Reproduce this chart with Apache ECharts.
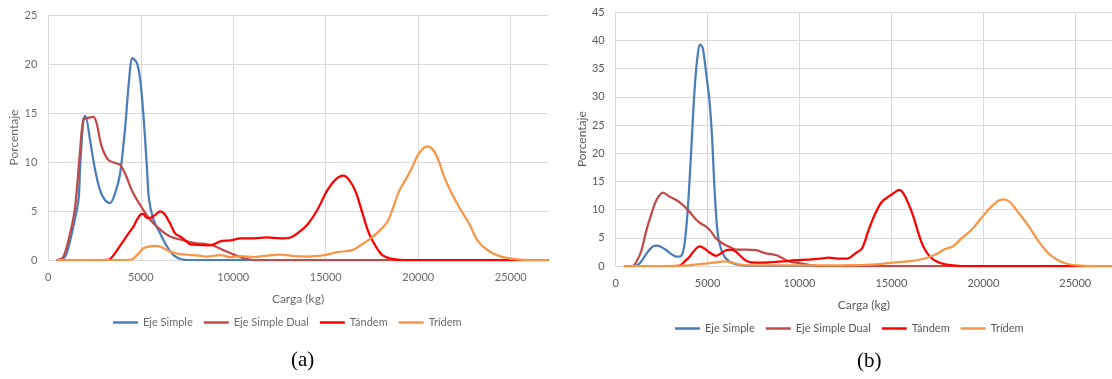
<!DOCTYPE html>
<html>
<head>
<meta charset="utf-8">
<style>
html,body{margin:0;padding:0;background:#fff;}
#chart{width:1112px;height:379px;}
</style>
<script src="https://cdn.jsdelivr.net/npm/echarts@6/dist/echarts.min.js"></script>
</head>
<body>
<div id="chart"></div>
<script>
// ---- data ----
const seriesNames = ['Eje Simple', 'Eje Simple Dual', 'Tándem', 'Trídem'];
const xMin = 0, xMax = 27000, xStep = 5000;
const yMaxA = 25, yMaxB = 45, yStep = 5;

// Chart (a): [carga kg, porcentaje]
const ejeSimpleA = [[500,0],[800,0.1],[1000,0.7],[1270,2.7],[1630,6.1],[1720,9.5],[1900,14.4],[2000,14.7],[2260,12.2],[2530,9.2],[2800,7.1],[3070,6.1],[3340,5.8],[3610,6.8],[3880,8.8],[4160,13.6],[4350,18],[4550,20.6],[4790,20.1],[4970,18.4],[5150,14.6],[5330,9.5],[5450,6.1],[5690,4.1],[6050,2.7],[6410,1.4],[6770,0.5],[7230,0.05],[7600,0],[12000,0],[20000,0],[27000,0]];
const ejeDualA = [[500,0],[810,0.3],[1175,2.7],[1450,5.4],[1720,11.2],[1900,14.3],[2170,14.5],[2440,14.6],[2620,13.9],[2800,12.2],[2980,11.1],[3250,10.2],[3610,9.9],[3880,9.7],[4160,8.8],[4520,7.1],[4970,5.6],[5510,4.1],[6050,3.1],[6590,2.4],[7310,2.0],[7850,1.75],[8580,1.6],[8940,1.45],[9300,1.15],[9660,0.85],[10030,0.55],[10390,0.3],[10750,0.1],[11100,0],[15000,0],[21000,0],[27000,0]];
const tandemA = [[500,0],[2000,0],[3000,0],[3300,0.05],[3610,0.7],[3970,1.7],[4330,2.7],[4600,3.4],[4790,4.1],[4970,4.6],[5120,4.7],[5330,4.3],[5510,4.3],[5780,4.6],[6050,4.95],[6320,4.6],[6590,3.7],[6860,2.7],[7130,2.4],[7400,2.0],[7670,1.6],[8030,1.55],[8580,1.5],[8940,1.6],[9300,1.9],[9840,2.0],[10390,2.2],[11110,2.2],[11830,2.3],[12540,2.2],[13090,2.3],[13450,2.7],[14000,3.6],[14540,5.1],[15080,7.1],[15530,8.2],[15950,8.6],[16250,8.2],[16610,7.0],[16980,4.8],[17340,2.7],[17700,1.4],[18060,0.5],[18510,0.15],[19220,0],[22000,0],[27000,0]];
const tridemA = [[500,0],[2500,0],[4000,0],[4510,0.05],[4790,0.5],[5150,1.2],[5510,1.4],[5870,1.45],[6230,1.2],[6590,0.85],[7130,0.6],[7850,0.5],[8580,0.35],[9300,0.5],[9840,0.3],[10390,0.4],[11110,0.3],[11830,0.45],[12540,0.55],[13270,0.4],[14000,0.35],[14900,0.5],[15620,0.8],[16430,1.0],[16880,1.5],[17430,2.2],[17970,3.1],[18330,3.9],[18600,5.1],[18960,7.0],[19320,8.2],[19680,9.5],[20040,10.9],[20500,11.6],[20860,11.1],[21130,10.0],[21400,8.5],[21760,7.0],[22300,5.1],[22760,3.7],[23200,2.0],[23750,1.0],[24470,0.35],[25200,0.1],[26000,0],[27000,0]];

// Chart (b): [carga kg, porcentaje]
const ejeSimpleB = [[500,0],[1000,0],[1315,0.5],[1675,2.2],[2035,3.5],[2250,3.6],[2670,3.0],[3030,2.1],[3300,1.65],[3570,1.8],[3750,4.0],[3930,10.5],[4110,20.6],[4290,31.2],[4470,37.7],[4600,39.3],[4740,38.6],[4920,34.2],[5100,29.4],[5250,22.4],[5370,14.1],[5550,5.8],[5820,2.25],[6180,0.8],[6720,0.2],[7260,0],[12000,0],[20000,0],[27000,0]];
const ejeDualB = [[500,0],[900,0],[1135,0.8],[1405,2.8],[1675,6.4],[1950,9.3],[2220,11.7],[2575,13.0],[2940,12.3],[3300,11.7],[3660,10.8],[4020,9.6],[4380,8.2],[4650,7.5],[4920,7.0],[5190,6.1],[5460,4.9],[5820,4.0],[6180,3.4],[6550,2.9],[7090,2.9],[7630,2.8],[8170,2.25],[8710,1.95],[9070,1.4],[9430,0.8],[9970,0.5],[10510,0.2],[11000,0],[15000,0],[21000,0],[27000,0]];
const tandemB = [[500,0],[2000,0],[3200,0],[3480,0.05],[3750,0.8],[4020,1.65],[4290,2.8],[4560,3.5],[4830,3.1],[5100,2.4],[5460,1.8],[5730,2.25],[6000,2.8],[6270,2.9],[6550,2.5],[6820,1.65],[7180,0.8],[7630,0.6],[8350,0.65],[9070,0.8],[9790,1.05],[10510,1.15],[11230,1.35],[11600,1.5],[12140,1.3],[12590,1.3],[13040,2.25],[13400,3.1],[13760,6.4],[14120,9.3],[14480,11.4],[14840,12.3],[15110,12.9],[15420,13.5],[15650,12.9],[15920,11.1],[16200,8.7],[16470,5.8],[16740,3.4],[17100,1.65],[17550,0.65],[18110,0.2],[18830,0],[22000,0],[27000,0]];
const tridemB = [[500,0],[2500,0],[3800,0.05],[4560,0.35],[5100,0.5],[5550,0.7],[5910,0.8],[6270,0.65],[6720,0.3],[7260,0.1],[10000,0.1],[13000,0.15],[14300,0.35],[15200,0.65],[16100,0.9],[16640,1.2],[17100,1.65],[17550,2.25],[17910,3.0],[18360,3.5],[18810,4.9],[19350,6.4],[19890,8.5],[20430,10.5],[20890,11.7],[21120,11.8],[21430,11.4],[21880,9.6],[22420,7.3],[22960,4.6],[23500,2.4],[24040,1.05],[24580,0.35],[25120,0.1],[26000,0],[27000,0]];

const dataA = [ejeSimpleA, ejeDualA, tandemA, tridemA];
const dataB = [ejeSimpleB, ejeDualB, tandemB, tridemB];
const colors = ['#4a7ebb', '#be4b48', '#ff0000', '#f79646'];

// ---- chart ----
const FONT = 'Lato';
const chart = echarts.init(document.getElementById('chart'), null, {renderer: 'canvas'});

function xAxisCfg(gridIndex, color) {
  return {
    type: 'value', gridIndex, min: xMin, max: xMax, interval: xStep,
    name: 'Carga (kg)', nameLocation: 'middle', nameGap: 33,
    nameTextStyle: {fontFamily: FONT, fontSize: 12, color},
    axisLine: {show: true, lineStyle: {color: '#d9d9d9', width: 1}},
    axisTick: {show: false},
    axisLabel: {fontFamily: FONT, fontSize: 11, color, margin: 12, showMaxLabel: false,
                formatter: v => String(v)},
    splitLine: {show: true, showMaxLine: false, lineStyle: {color: '#d9d9d9', width: 1}}
  };
}
function yAxisCfg(gridIndex, max, color) {
  return {
    type: 'value', gridIndex, min: 0, max, interval: yStep,
    name: 'Porcentaje', nameLocation: 'middle', nameGap: 28,
    nameTextStyle: {fontFamily: FONT, fontSize: 12, color},
    axisLine: {show: false}, axisTick: {show: false},
    axisLabel: {fontFamily: FONT, fontSize: 11, color, margin: 11},
    splitLine: {show: true, lineStyle: {color: '#d9d9d9', width: 1}}
  };
}

const series = [];
[dataA, dataB].forEach((set, gi) => {
  set.forEach((d, si) => {
    series.push({
      name: seriesNames[si], type: 'line', xAxisIndex: gi, yAxisIndex: gi,
      data: d, showSymbol: false, symbol: 'none',
      smooth: 0.3,
      lineStyle: {color: colors[si], width: 2.25, join: 'round', cap: 'round'},
      itemStyle: {color: colors[si]},
      z: 2 + si, animation: false
    });
  });
});

chart.setOption({
  animation: false,
  color: colors,
  grid: [
    {left: 48.3, top: 15, width: 499.4, height: 245},
    {left: 615.7, top: 12.3, width: 499, height: 253.7}
  ],
  xAxis: [xAxisCfg(0, '#6a6a6a'), xAxisCfg(1, '#595959')],
  yAxis: [yAxisCfg(0, yMaxA, '#6a6a6a'), yAxisCfg(1, yMaxB, '#595959')],
  legend: [
    {data: seriesNames, left: 113, top: 317, padding: 0, icon: 'rect', itemWidth: 25, itemHeight: 2.5, itemGap: 11,
     textStyle: {fontFamily: FONT, fontSize: 11, color: '#6a6a6a'}, selectedMode: false},
    {data: seriesNames, left: 675, top: 323, padding: 0, icon: 'rect', itemWidth: 25, itemHeight: 2.5, itemGap: 11,
     textStyle: {fontFamily: FONT, fontSize: 11, color: '#595959'}, selectedMode: false}
  ],
  graphic: [
    {type: 'text', left: 291, top: 350, style: {text: '(a)', font: '21px "Liberation Serif"', fill: '#000'}},
    {type: 'text', left: 857, top: 351, style: {text: '(b)', font: '21px "Liberation Serif"', fill: '#000'}}
  ],
  series
});
</script>
</body>
</html>
